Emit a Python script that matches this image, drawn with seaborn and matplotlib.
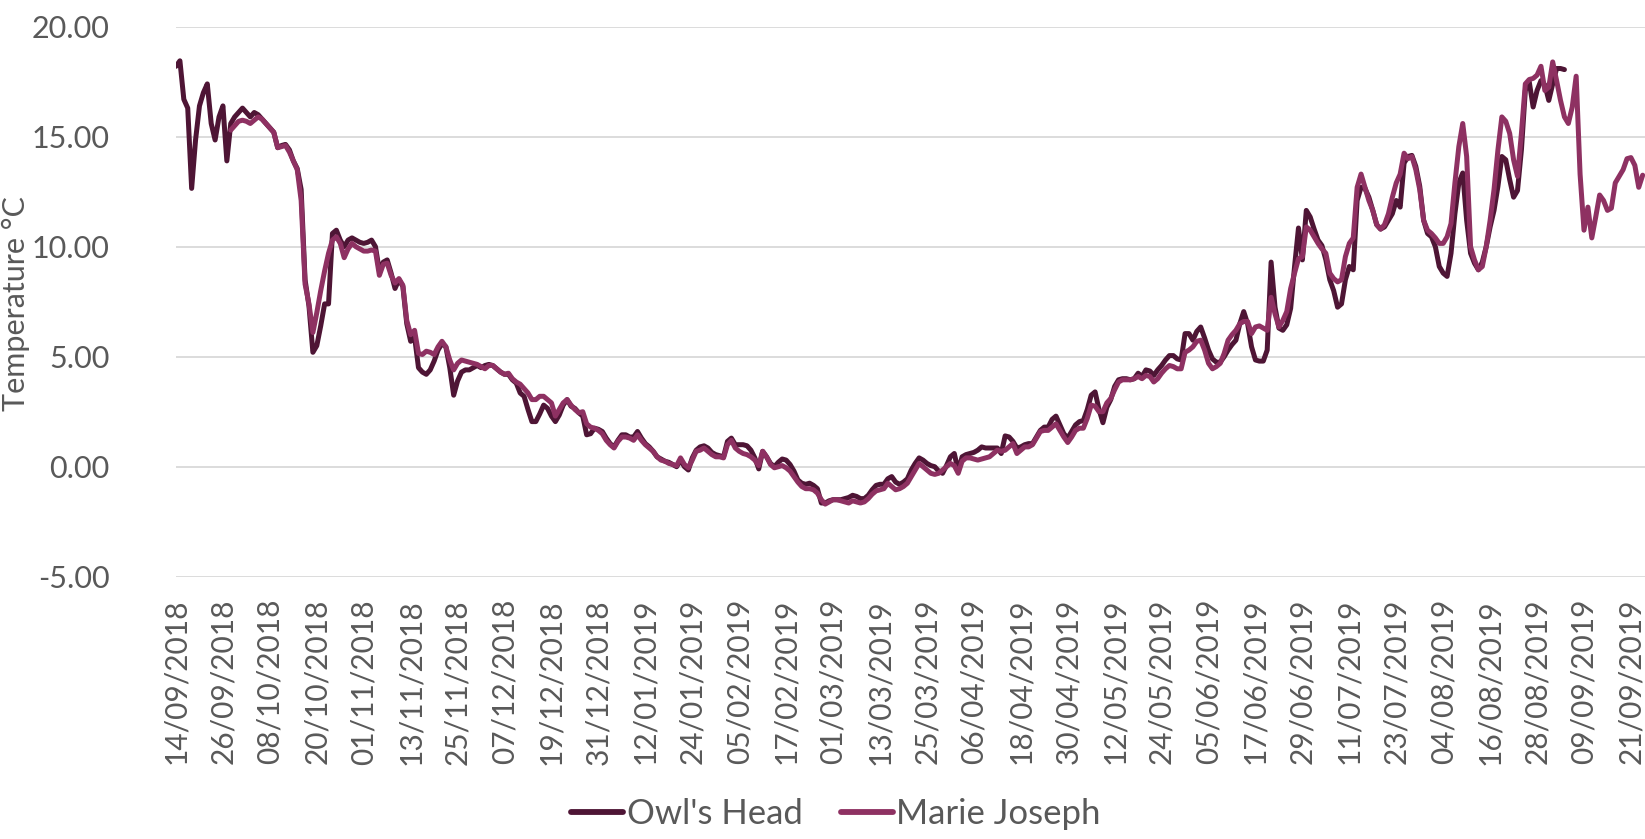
import numpy as np
import pandas as pd
import matplotlib
matplotlib.use("Agg")
import matplotlib.pyplot as plt
import seaborn as sns

# ---------------- data ----------------
series_names = ["Owl's Head", "Marie Joseph"]

owls_head_start = "2018-09-14"
owls_head = [
    18.2, 18.45, 16.7, 16.3, 12.65, 14.85, 16.4, 17.0, 17.4, 15.6, 14.85, 15.9, 16.4, 13.9,
    15.6, 15.9, 16.1, 16.3, 16.1, 15.9, 16.1, 16.0, 15.8, 15.6, 15.4, 15.2, 14.5, 14.6, 14.65,
    14.4, 13.9, 13.55, 12.6,
    8.5, 7.3, 5.2, 5.5, 6.4, 7.4, 7.4, 10.6, 10.75, 10.3, 10.0, 10.3, 10.4, 10.3, 10.2, 10.15,
    10.2, 10.3, 10.0, 8.9, 9.3, 9.4, 8.8, 8.1, 8.5, 8.2, 6.5, 5.7, 5.9, 4.5, 4.3, 4.2, 4.4, 4.8,
    5.3, 5.6, 5.45, 4.5, 3.25, 3.9, 4.3, 4.4, 4.4, 4.5, 4.6, 4.5, 4.6, 4.65, 4.6, 4.45, 4.3, 4.2,
    4.2, 3.95, 3.8, 3.35, 3.2, 2.6, 2.05, 2.05, 2.4, 2.8, 2.65,
    2.3, 2.05, 2.35, 2.8, 3.05, 2.75, 2.65, 2.45, 2.3, 1.45, 1.5, 1.75, 1.7, 1.6, 1.3, 1.05, 0.9,
    1.2, 1.45, 1.45, 1.35, 1.35, 1.6, 1.3, 1.05, 0.9, 0.7, 0.45, 0.35, 0.25, 0.2, 0.1, 0.0, 0.3,
    0.0, -0.15, 0.4, 0.75, 0.9, 0.95, 0.85, 0.65, 0.55, 0.5, 0.45, 1.15, 1.3, 1.0, 1.0, 1.0, 0.95,
    0.75, 0.4, -0.1, 0.7, 0.45, 0.15, 0.0, 0.2, 0.35, 0.3, 0.1, -0.2, -0.6, -0.75, -0.8, -0.75,
    -0.85, -1.0, -1.65,
    -1.65, -1.55, -1.5, -1.5, -1.5, -1.45, -1.4, -1.3, -1.35, -1.45, -1.45, -1.3, -1.05, -0.85,
    -0.8, -0.8, -0.55, -0.45, -0.7, -0.8, -0.7, -0.55, -0.15, 0.15, 0.4, 0.3, 0.15, 0.05, 0.0,
    -0.2, -0.3, 0.05, 0.45, 0.6, -0.2, 0.45, 0.55, 0.6, 0.65, 0.75, 0.9, 0.85, 0.85, 0.85, 0.85,
    0.6, 1.4, 1.35, 1.15, 0.85, 0.9, 1.0, 1.05, 1.05, 1.35, 1.65, 1.8, 1.8, 2.15, 2.3, 1.9, 1.5,
    1.3, 1.6, 1.9, 2.05, 2.1, 2.6, 3.25, 3.4, 2.6, 2.0, 2.7,
    3.05, 3.65, 3.95, 4.0, 4.0, 3.95, 4.0, 4.25, 4.1, 4.4, 4.35, 4.15, 4.4, 4.6, 4.85, 5.05, 5.05,
    4.9, 4.85, 6.05, 6.05, 5.75, 6.15, 6.35, 5.85, 5.3, 4.9, 4.75, 4.75, 5.0, 5.3, 5.55, 5.75,
    6.5, 7.05, 6.5, 5.45, 4.85, 4.8, 4.8, 5.3, 9.3, 7.25, 6.3, 6.2, 6.45, 7.2, 9.1, 10.85,
    9.4, 11.65, 11.35, 10.8, 10.3, 10.05, 9.4, 8.5, 8.0, 7.25, 7.4, 8.5, 9.1, 8.95, 12.1, 12.7,
    12.65, 12.25, 11.65, 11.0, 10.8, 10.9, 11.2, 11.5, 12.1, 11.8, 13.8, 14.1, 14.15, 13.65,
    12.75, 11.2, 10.6, 10.45, 10.0, 9.1, 8.8, 8.65, 9.7, 11.5, 12.9, 13.35, 11.2,
    9.7, 9.25, 8.95, 9.3, 10.0, 10.9, 11.65, 12.75, 14.1, 13.95, 13.05, 12.25, 12.55, 14.4, 17.1,
    17.5, 16.35, 17.1, 17.55, 17.35, 16.65, 17.4, 18.1, 18.1, 18.05,
]

marie_joseph_start = "2018-09-28"
marie_joseph = [
    15.3, 15.5, 15.7, 15.75, 15.7, 15.6, 15.75, 15.9, 15.8, 15.6, 15.4, 15.2, 14.5, 14.55, 14.6,
    14.3, 13.9, 13.5, 12.1,
    8.3, 7.4, 6.1, 7.0, 8.0, 8.9, 9.7, 10.3, 10.45, 10.15, 9.5, 9.9, 10.15, 10.0, 9.9, 9.8,
    9.8, 9.85, 9.8, 8.7, 9.2, 9.25, 8.7, 8.35, 8.55, 8.25, 6.65, 6.0, 6.2, 5.15, 5.1, 5.25, 5.2,
    5.1, 5.45, 5.7, 5.45, 4.85, 4.4, 4.7, 4.85, 4.8, 4.75, 4.7, 4.65, 4.55, 4.45, 4.6, 4.6, 4.45,
    4.3, 4.2, 4.25, 4.0, 3.85, 3.75, 3.55, 3.35, 3.05, 3.05, 3.2, 3.2, 3.05,
    2.9, 2.3, 2.6, 2.9, 3.05, 2.8, 2.6, 2.45, 2.5, 1.95, 1.8, 1.75, 1.65, 1.5, 1.2, 1.0, 0.85,
    1.15, 1.35, 1.35, 1.3, 1.2, 1.45, 1.2, 1.0, 0.85, 0.7, 0.45, 0.3, 0.25, 0.15, 0.1, 0.05, 0.4,
    0.1, -0.05, 0.3, 0.7, 0.75, 0.85, 0.7, 0.55, 0.45, 0.45, 0.4, 1.0, 1.2, 0.85, 0.7, 0.6, 0.55,
    0.45, 0.3, 0.05, 0.7, 0.45, 0.1, -0.05, 0.0, 0.05, -0.05, -0.2, -0.45, -0.7, -0.9, -1.0, -1.0,
    -1.05, -1.2, -1.5,
    -1.7, -1.6, -1.5, -1.5, -1.55, -1.6, -1.65, -1.55, -1.6, -1.65, -1.6, -1.45, -1.25, -1.1,
    -1.05, -1.0, -0.75, -0.9, -1.05, -1.0, -0.9, -0.75, -0.45, -0.15, 0.15, 0.0, -0.15, -0.3,
    -0.35, -0.3, -0.15, 0.0, 0.15, 0.05, -0.3, 0.25, 0.4, 0.4, 0.35, 0.3, 0.35, 0.4, 0.45, 0.6,
    0.75, 0.7, 0.75, 0.9, 1.05, 0.6, 0.75, 0.9, 0.9, 1.0, 1.3, 1.6, 1.65, 1.65, 1.8, 1.95, 1.65,
    1.35, 1.1, 1.35, 1.65, 1.75, 1.75, 2.2, 2.8, 2.75, 2.5, 2.5, 2.9,
    3.1, 3.5, 3.85, 3.95, 3.95, 3.95, 4.0, 4.1, 4.0, 4.15, 4.1, 3.85, 4.0, 4.25, 4.45, 4.6, 4.55,
    4.45, 4.45, 5.2, 5.3, 5.45, 5.7, 5.75, 5.3, 4.7, 4.45, 4.55, 4.7, 5.15, 5.75, 6.0, 6.2, 6.5,
    6.6, 6.6, 6.05, 6.35, 6.4, 6.3, 6.2, 7.7, 6.95, 6.35, 6.65, 7.05, 8.1, 8.8, 9.45,
    9.55, 10.9, 10.75, 10.45, 10.15, 9.9, 9.7, 8.8, 8.55, 8.4, 8.5, 9.55, 10.15, 10.4, 12.7, 13.3,
    12.7, 12.1, 11.65, 11.0, 10.8, 11.0, 11.5, 12.25, 12.9, 13.3, 14.25, 14.0, 14.1, 13.5, 12.6,
    11.2, 10.75, 10.6, 10.4, 10.15, 10.15, 10.45, 11.05, 12.9, 14.55, 15.6, 14.1,
    10.0, 9.4, 8.95, 9.1, 10.0, 11.2, 12.6, 14.4, 15.9, 15.7, 15.15, 13.95, 13.2, 15.15, 17.4,
    17.6, 17.65, 17.8, 18.2, 17.1, 17.25, 18.4, 17.55, 16.65, 15.9, 15.6, 16.35, 17.75, 13.3,
    10.75, 11.8, 10.4, 11.35, 12.35, 12.1, 11.65, 11.75, 12.9, 13.2, 13.5, 14.0, 14.05, 13.7,
    12.7, 13.25,
]

tick_labels = [
    "14/09/2018", "26/09/2018", "08/10/2018", "20/10/2018", "01/11/2018", "13/11/2018",
    "25/11/2018", "07/12/2018", "19/12/2018", "31/12/2018", "12/01/2019", "24/01/2019",
    "05/02/2019", "17/02/2019", "01/03/2019", "13/03/2019", "25/03/2019", "06/04/2019",
    "18/04/2019", "30/04/2019", "12/05/2019", "24/05/2019", "05/06/2019", "17/06/2019",
    "29/06/2019", "11/07/2019", "23/07/2019", "04/08/2019", "16/08/2019", "28/08/2019",
    "09/09/2019", "21/09/2019",
]
y_ticks = [-5, 0, 5, 10, 15, 20]

# ---------------- styling ----------------
colors = ["#4E1535", "#8E3162"]
text_color = "#595959"
W, H = 1645, 839

sns.set_theme(style="white")
plt.rcParams["font.family"] = ["Lato", "DejaVu Sans"]

oh = pd.DataFrame({"date": pd.date_range(owls_head_start, periods=len(owls_head), freq="D"),
                   "temp": owls_head, "site": series_names[0]})
mj = pd.DataFrame({"date": pd.date_range(marie_joseph_start, periods=len(marie_joseph), freq="D"),
                   "temp": marie_joseph, "site": series_names[1]})
df = pd.concat([oh, mj], ignore_index=True)

fig = plt.figure(figsize=(W / 100, H / 100), dpi=100)
ax_left, ax_right = 176 / W, 1.0
ax_top, ax_bottom = 1 - 26.7 / H, 1 - 576.7 / H
ax = fig.add_axes([ax_left, ax_bottom, ax_right - ax_left, ax_top - ax_bottom])

sns.lineplot(data=df, x="date", y="temp", hue="site", hue_order=series_names,
             palette=colors, linewidth=3.6, estimator=None, sort=False, ax=ax)

start = pd.Timestamp(owls_head_start)
ax.set_xlim(start, start + pd.Timedelta(days=375.6))
ax.set_ylim(y_ticks[0], y_ticks[-1])

tick_pos = pd.to_datetime(tick_labels, format="%d/%m/%Y")
ax.set_xticks(tick_pos)
ax.set_xticklabels(tick_labels, rotation=90, fontsize=21.5, color=text_color)
ax.set_yticks(y_ticks)
ax.set_yticklabels([f"{v:.2f}" for v in y_ticks], fontsize=22, color=text_color)
ax.tick_params(axis="x", length=0, pad=16)
ax.tick_params(axis="y", length=0, pad=48)

ax.yaxis.grid(True, color="#D9D9D9", linewidth=1.3)
ax.xaxis.grid(False)
ax.set_axisbelow(True)
for s in ax.spines.values():
    s.set_visible(False)
ax.set_xlabel("")
ax.set_ylabel("")

handles, labels = ax.get_legend_handles_labels()
for h in handles:
    h.set_linewidth(4.2)
ax.legend(handles, labels, loc="center", bbox_to_anchor=(836 / W, 1 - 814 / H),
          bbox_transform=fig.transFigure, ncol=2, frameon=False, fontsize=25,
          handlelength=1.5, handletextpad=0.1, columnspacing=1.1, labelcolor=text_color)

# y-axis title: placed just left of the tick labels so that they do not collide
ytitle = fig.text(0, 1 - 304 / H, "Temperature °C", rotation=90, ha="left", va="center",
                  fontsize=22, color=text_color)
fig.canvas.draw()
renderer = fig.canvas.get_renderer()
tb = ytitle.get_window_extent(renderer)
min_x0 = min(t.get_window_extent(renderer).x0 for t in ax.get_yticklabels()
             if t.get_window_extent(renderer).y1 > tb.y0 and t.get_window_extent(renderer).y0 < tb.y1)
width = tb.width
x_left = max(2, min(31 - width / 2, min_x0 - 3 - width))
ytitle.set_x(x_left / W)

fig.savefig("out.png", dpi=100)
